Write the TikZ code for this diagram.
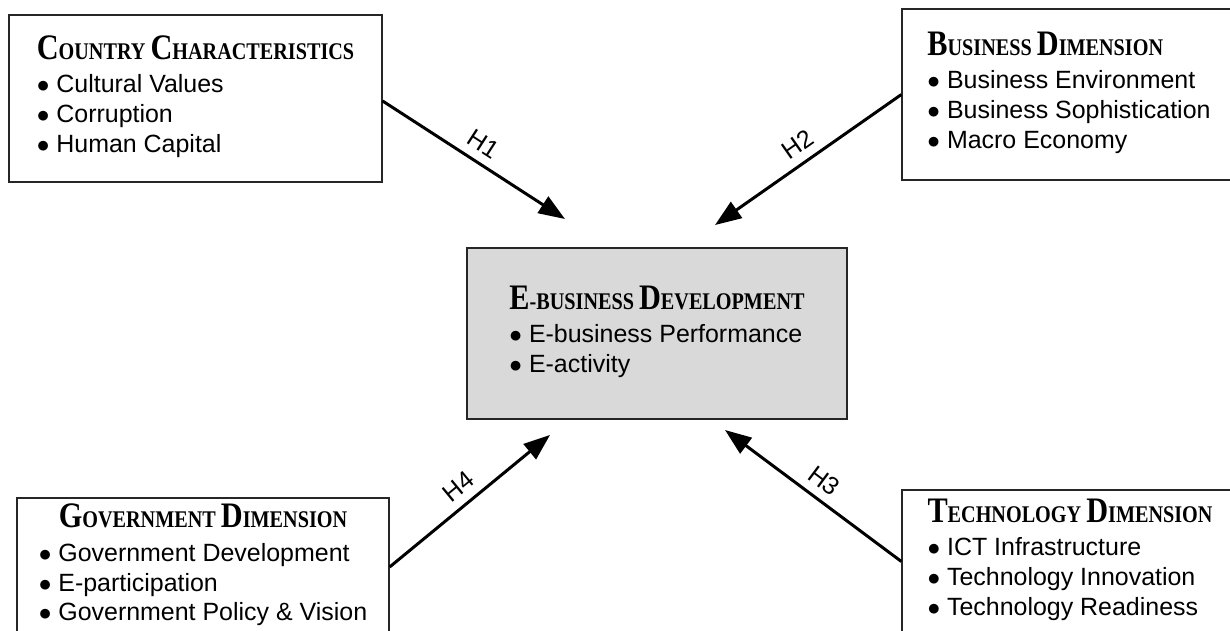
\documentclass[tikz,border=0pt]{standalone}
\usepackage{fontspec}
\setsansfont{Liberation Sans}
\newfontfamily\titlefont{Liberation Serif}[FakeStretch=0.845]
\usetikzlibrary{arrows.meta,positioning}
\definecolor{coregray}{HTML}{D9D9D9}
\newcommand\bigini[1]{{\fontsize{20.4}{24}\selectfont #1}}
\newcommand\factortitle[1]{{\titlefont\bfseries\fontsize{13.6}{17}\selectfont #1}}
\newcommand\itm{$\bullet$\ }

\begin{document}
\begin{tikzpicture}[
      factor/.style={draw=black!85,line width=0.7pt,align=center,inner sep=0pt,font=\sffamily\fontsize{14.2}{17}\selectfont},
      core/.style={factor,fill=coregray},
      hyp/.style={-{Triangle[length=15pt,width=11pt]},line width=1.7pt,draw=black},
      hlabel/.style={midway,sloped,above=1.5pt,font=\sffamily\fontsize{14.2}{17}\selectfont}
    ]
    \useasboundingbox (0,0) rectangle (24.6,12.6);
    \clip (0,0) rectangle (24.6,12.6);

    \node[factor,minimum width=7.46cm,minimum height=3.34cm] (cc) at (3.91,10.63)
      {\begin{tabular}{@{}l@{}}\factortitle{\bigini{C}OUNTRY \bigini{C}HARACTERISTICS}\\[2pt]
       \itm Cultural Values\\ \itm Corruption\\ \itm Human Capital\end{tabular}};
    \node[factor,minimum width=6.68cm,minimum height=3.42cm] (bd) at (21.38,10.71)
      {\begin{tabular}{@{}l@{}}\factortitle{\bigini{B}USINESS \bigini{D}IMENSION}\\[2pt]
       \itm Business Environment\\ \itm Business Sophistication\\ \itm Macro Economy\end{tabular}};
    \node[core,minimum width=7.6cm,minimum height=3.42cm] (eb) at (13.14,5.93)
      {\begin{tabular}{@{}l@{}}\factortitle{\bigini{E}-BUSINESS \bigini{D}EVELOPMENT}\\[2pt]
       \itm E-business Performance\\ \itm E-activity\end{tabular}};
    \node[factor,minimum width=7.44cm,minimum height=2.76cm] (gd) at (4.06,1.26)
      {\begin{tabular}{@{}l@{}}\multicolumn{1}{@{}c@{}}{\factortitle{\bigini{G}OVERNMENT \bigini{D}IMENSION}}\\[2pt]
       \itm Government Development\\ \itm E-participation\\ \itm Government Policy \& Vision\end{tabular}};
    \node[factor,minimum width=6.72cm,minimum height=2.86cm] (td) at (21.4,1.37)
      {\begin{tabular}{@{}l@{}}\factortitle{\bigini{T}ECHNOLOGY \bigini{D}IMENSION}\\[2pt]
       \itm ICT Infrastructure\\ \itm Technology Innovation\\ \itm Technology Readiness\end{tabular}};

    % arrow tips stop short of the centre box
    \coordinate (t1) at (11.30,8.22);
    \coordinate (t2) at (14.30,8.10);
    \coordinate (t3) at (14.50,4.00);
    \coordinate (t4) at (11.00,3.90);

    \draw[hyp] ([yshift=-0.05cm]cc.east) -- (t1) node[hlabel] (h1) {H1};
    \draw[hyp] (bd.west) -- (t2) node[hlabel] (h2) {H2};
    \draw[hyp] (td.west) -- (t3) node[hlabel] (h3) {H3};
    \draw[hyp] (gd.east) -- (t4) node[hlabel] (h4) {H4};

  \end{tikzpicture}
\end{document}
